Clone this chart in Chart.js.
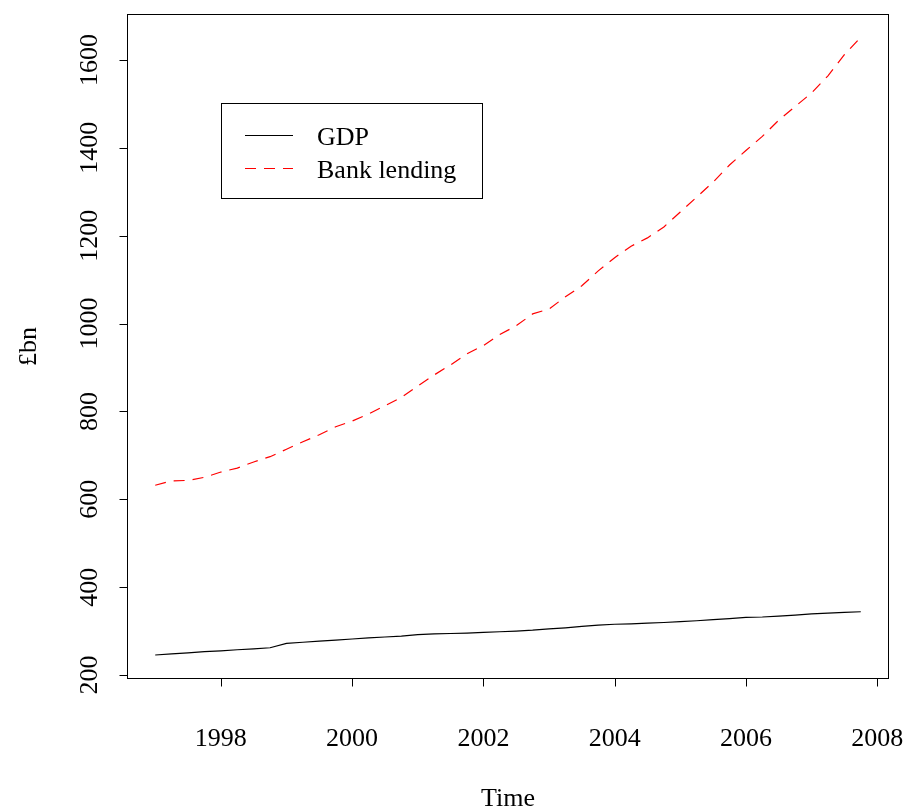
<!DOCTYPE html>
<html>
<head>
<meta charset="utf-8">
<script src="https://cdn.jsdelivr.net/npm/chart.js@4.4.0/dist/chart.umd.min.js"></script>
<style>
    html, body { margin: 0; padding: 0; background: #ffffff; }
    #wrap { width: 909px; height: 812px; }
</style>
</head>
<body>
<div id="wrap"><canvas id="lendingChart" width="909" height="812"></canvas></div>
<script>
// quarterly time index, 1997 Q1 .. 2007 Q4
const times = [
    1997, 1997.25, 1997.5, 1997.75, 1998, 1998.25, 1998.5, 1998.75,
    1999, 1999.25, 1999.5, 1999.75, 2000, 2000.25, 2000.5, 2000.75,
    2001, 2001.25, 2001.5, 2001.75, 2002, 2002.25, 2002.5, 2002.75,
    2003, 2003.25, 2003.5, 2003.75, 2004, 2004.25, 2004.5, 2004.75,
    2005, 2005.25, 2005.5, 2005.75, 2006, 2006.25, 2006.5, 2006.75,
    2007, 2007.25, 2007.5, 2007.75
];

const gdp = [
    245.5, 248, 250.5, 253, 255, 257.5, 259.5, 262,
    272, 274.5, 277, 279.5, 282, 284.5, 286.5, 288.5,
    292, 293.5, 294.5, 295.5, 297, 298.5, 300, 302,
    305, 307.5, 310.5, 313.5, 315.5, 316.5, 318, 319.5,
    321.5, 323.5, 326, 328.5, 331, 332, 334, 336.5,
    339, 341, 342.5, 344
];

const bankLending = [
    632, 642, 643, 650, 662, 671, 685, 697,
    714, 731, 747, 765, 778, 794, 813, 832,
    858, 883, 906, 931, 950, 975, 995, 1022,
    1033, 1061, 1086, 1120, 1150, 1176, 1195, 1220,
    1254, 1288, 1322, 1361, 1394, 1426, 1463, 1494,
    1525, 1564, 1612, 1652
];

const xTicks = [1998, 2000, 2002, 2004, 2006, 2008];
const yTicks = [200, 400, 600, 800, 1000, 1200, 1400, 1600];
const seriesNames = ['GDP', 'Bank lending'];

const FONT = '26px "Liberation Serif", "DejaVu Serif", serif';

function toPoints(values) {
    return values.map((v, i) => ({ x: times[i], y: v }));
}

// draws the base-R style frame, axes, titles and legend
const rFrame = {
    id: 'rFrame',
    afterDraw(chart) {
        const ctx = chart.ctx;
        const a = chart.chartArea;
        const xs = chart.scales.x;
        const ys = chart.scales.y;
        ctx.save();
        ctx.strokeStyle = '#000';
        ctx.fillStyle = '#000';
        ctx.lineWidth = 1;
        ctx.setLineDash([]);

        // box
        ctx.strokeRect(a.left + 0.5, a.top + 0.5, a.right - a.left - 1, a.bottom - a.top - 1);

        // x axis
        const xb = a.bottom - 0.5;
        ctx.beginPath();
        ctx.moveTo(Math.round(xs.getPixelForValue(xTicks[0])) + 0.5, xb);
        ctx.lineTo(Math.round(xs.getPixelForValue(xTicks[xTicks.length - 1])) + 0.5, xb);
        xTicks.forEach(t => {
            const px = Math.round(xs.getPixelForValue(t)) + 0.5;
            ctx.moveTo(px, xb);
            ctx.lineTo(px, xb + 8);
        });
        ctx.stroke();
        ctx.font = FONT;
        ctx.textAlign = 'center';
        ctx.textBaseline = 'alphabetic';
        xTicks.forEach(t => {
            ctx.fillText(String(t), xs.getPixelForValue(t), 746);
        });

        // y axis
        const yl = a.left + 0.5;
        ctx.beginPath();
        ctx.moveTo(yl, Math.round(ys.getPixelForValue(yTicks[0])) + 0.5);
        ctx.lineTo(yl, Math.round(ys.getPixelForValue(yTicks[yTicks.length - 1])) + 0.5);
        yTicks.forEach(t => {
            const py = Math.round(ys.getPixelForValue(t)) + 0.5;
            ctx.moveTo(yl, py);
            ctx.lineTo(yl - 8, py);
        });
        ctx.stroke();
        yTicks.forEach(t => {
            ctx.save();
            ctx.translate(97, ys.getPixelForValue(t));
            ctx.rotate(-Math.PI / 2);
            ctx.fillText(String(t), 0, 0);
            ctx.restore();
        });

        // axis titles
        ctx.fillText('Time', (a.left + a.right) / 2, 806);
        ctx.save();
        ctx.translate(36, (a.top + a.bottom) / 2);
        ctx.rotate(-Math.PI / 2);
        ctx.fillText('£bn', 0, 0);
        ctx.restore();

        // legend
        ctx.fillStyle = '#fff';
        ctx.fillRect(221, 103, 261, 95);
        ctx.strokeStyle = '#000';
        ctx.strokeRect(221.5, 103.5, 261, 95);
        const rows = [
            { y: 135.5, color: '#000', dash: [] },
            { y: 168.5, color: '#ff0000', dash: [11, 8] }
        ];
        rows.forEach((r, i) => {
            ctx.strokeStyle = r.color;
            ctx.setLineDash(r.dash);
            ctx.beginPath();
            ctx.moveTo(245, r.y);
            ctx.lineTo(293, r.y);
            ctx.stroke();
            ctx.setLineDash([]);
            ctx.fillStyle = '#000';
            ctx.textAlign = 'left';
            ctx.fillText(seriesNames[i], 317, r.y + 9);
        });
        ctx.restore();
    }
};

const chart = new Chart(document.getElementById('lendingChart').getContext('2d'), {
    type: 'line',
    data: {
        datasets: [
            {
                label: seriesNames[0],
                data: toPoints(gdp),
                borderColor: '#000000',
                borderWidth: 1.2,
                pointRadius: 0,
                tension: 0,
                fill: false
            },
            {
                label: seriesNames[1],
                data: toPoints(bankLending),
                borderColor: '#ff0000',
                borderWidth: 1.2,
                borderDash: [11, 8],
                pointRadius: 0,
                tension: 0,
                fill: false
            }
        ]
    },
    options: {
        responsive: false,
        animation: false,
        devicePixelRatio: 1,
        layout: {
            padding: { left: 127, top: 14, right: 20, bottom: 133 }
        },
        plugins: {
            legend: { display: false },
            tooltip: { enabled: false }
        },
        scales: {
            x: { type: 'linear', min: 1996.57, max: 2008.18, display: false },
            y: { type: 'linear', min: 190.9, max: 1704.7, display: false }
        }
    },
    plugins: [rFrame]
});
</script>
</body>
</html>
